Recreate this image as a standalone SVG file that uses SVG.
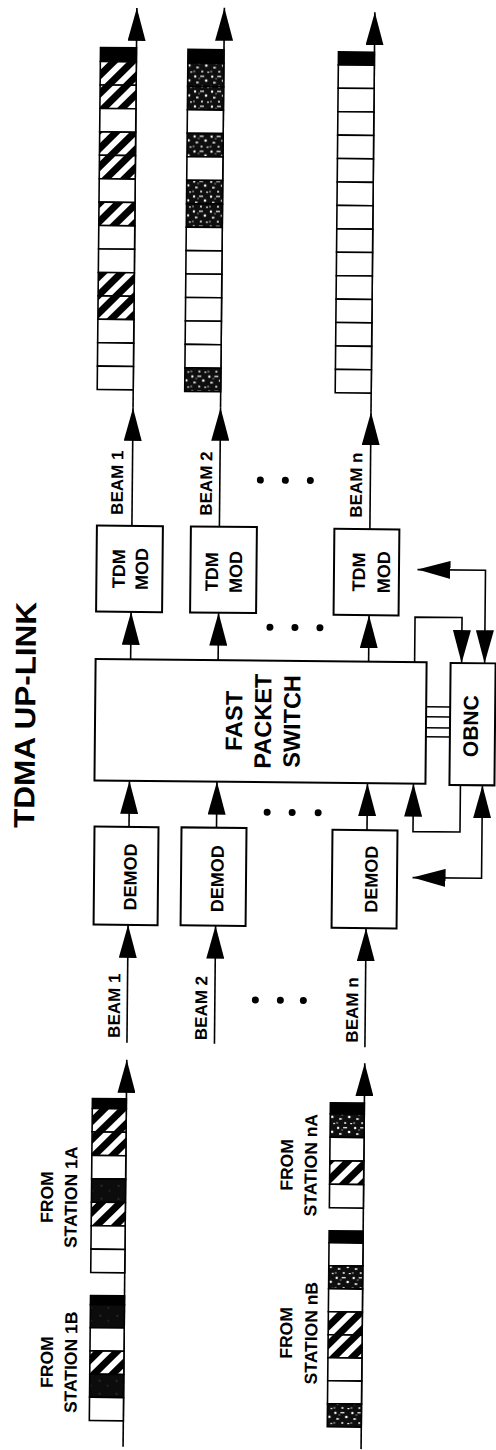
<svg xmlns="http://www.w3.org/2000/svg" width="496" height="1450" viewBox="0 0 496 1450">
<style>
.t{font-family:"Liberation Sans",Arial,Helvetica,sans-serif;font-weight:bold;fill:#000}
.bx{fill:#fff;stroke:#000;stroke-width:2}
.ln{fill:none;stroke:#000;stroke-width:1.6}
.ar{marker-end:url(#ah)}
.ab{marker-start:url(#ah);marker-end:url(#ah)}
.w{fill:#fff;stroke:#000;stroke-width:1.6}
.h{fill:url(#hatch);stroke:#000;stroke-width:1.6}
.s{fill:url(#stip);stroke:#000;stroke-width:1.6}
.d{fill:url(#dark);stroke:#000;stroke-width:1.6}
.k{fill:#000;stroke:#000;stroke-width:1.6}
</style>
<defs>
<marker id="ah" viewBox="0 0 33 18" refX="33" refY="9" markerWidth="33" markerHeight="18" markerUnits="userSpaceOnUse" orient="auto-start-reverse"><path d="M0,0 L33,9 L0,18 z" fill="#000"/></marker>
<pattern id="hatch" patternUnits="userSpaceOnUse" width="13" height="13" patternTransform="rotate(45)"><rect width="13" height="13" fill="#fff"/><rect width="7" height="13" fill="#000"/></pattern>
<pattern id="stip" patternUnits="userSpaceOnUse" width="17" height="15"><rect width="17" height="15" fill="#0e0e0e"/><circle cx="2" cy="2" r="1.2" fill="#fff"/><rect x="7" y="1" width="4" height="1.4" fill="#ddd"/><circle cx="13" cy="6" r="1.3" fill="#fff"/><rect x="3" y="7" width="2.5" height="2" fill="#ccc"/><circle cx="9" cy="12" r="1" fill="#fff"/><rect x="14" y="12" width="2" height="1.2" fill="#eee"/><circle cx="6" cy="4" r="0.7" fill="#bbb"/><circle cx="1" cy="12" r="0.8" fill="#ddd"/></pattern>
<pattern id="dark" patternUnits="userSpaceOnUse" width="17" height="13"><rect width="17" height="13" fill="#0c0c0c"/><circle cx="4" cy="4" r="0.6" fill="#888"/><circle cx="12" cy="9" r="0.5" fill="#777"/></pattern>
</defs>
<g transform="rotate(0.55 248 725)">
<g id="title"><text class="t" font-size="29" text-anchor="middle" textLength="226" lengthAdjust="spacingAndGlyphs" transform="translate(35,717) rotate(-90)">TDMA UP-LINK</text></g>

<g id="connectors">
<path class="ln ar" d="M130,527 V409"/>
<path class="ln ar" d="M130,409 V9"/>
<path class="ln ar" d="M130,660.5 V613"/>
<path class="ln ar" d="M130,828 V782"/>
<path class="ln ar" d="M130,1044 V926"/>
<path class="ln ar" d="M130,1448 V1061"/>
<path class="ln ar" d="M217.5,527 V408"/>
<path class="ln ar" d="M217.5,408 V8"/>
<path class="ln ar" d="M217.5,660.5 V613"/>
<path class="ln ar" d="M217.5,828 V782"/>
<path class="ln ar" d="M217.5,1044 V926"/>
<path class="ln ar" d="M368,528 V411"/>
<path class="ln ar" d="M368,411 V11"/>
<path class="ln ar" d="M368,660.5 V614"/>
<path class="ln ar" d="M368,829 V782"/>
<path class="ln ar" d="M368,1046 V927"/>
<path class="ln ar" d="M368,1448 V1062"/>
<path class="ln ar" d="M414,661 V615.5 H461 V661"/>
<path class="ln ab" d="M416,568 H484 V661"/>
<path class="ln ar" d="M461,783 V830 H414 V782"/>
<path class="ln ab" d="M414,876 H483 V783"/>
<path class="ln" stroke-width="1.8" d="M426,705 H450 M426,715 H450 M426,726 H450 M426,735 H450"/>
</g>

<g id="dots" fill="#000">
<circle cx="258" cy="480" r="3.5"/><circle cx="283" cy="480" r="3.5"/><circle cx="308" cy="480" r="3.5"/>
<circle cx="269" cy="627" r="3.5"/><circle cx="294" cy="627" r="3.5"/><circle cx="319" cy="627" r="3.5"/>
<circle cx="268" cy="812" r="3.5"/><circle cx="293" cy="812" r="3.5"/><circle cx="319" cy="812" r="3.5"/>
<circle cx="258" cy="1000" r="3.5"/><circle cx="283" cy="1000" r="3.5"/><circle cx="306" cy="1000" r="3.5"/>
</g>

<g id="switch"><rect class="bx" x="95" y="660.5" width="331" height="121.5"/>
<text class="t" font-size="23.5" text-anchor="middle" transform="translate(242,721) rotate(-90)">FAST</text>
<text class="t" font-size="23.5" text-anchor="middle" transform="translate(271,721) rotate(-90)">PACKET</text>
<text class="t" font-size="23.5" text-anchor="middle" transform="translate(300,721) rotate(-90)">SWITCH</text></g>

<g id="obnc"><rect class="bx" x="450" y="661" width="45" height="122"/>
<text class="t" font-size="21" text-anchor="middle" transform="translate(478,724) rotate(-90)">OBNC</text></g>

<g id="demod1"><rect class="bx" x="95.5" y="828" width="64" height="98"/>
<text class="t" font-size="18" text-anchor="middle" transform="translate(138,878) rotate(-90)">DEMOD</text></g>
<g id="demod2"><rect class="bx" x="182.5" y="828" width="65" height="98"/>
<text class="t" font-size="18" text-anchor="middle" transform="translate(225,879) rotate(-90)">DEMOD</text></g>
<g id="demodn"><rect class="bx" x="333.5" y="829" width="65" height="98"/>
<text class="t" font-size="18" text-anchor="middle" transform="translate(379,878) rotate(-90)">DEMOD</text></g>

<g id="tdm1"><rect class="bx" x="95" y="527" width="66" height="86"/>
<text class="t" font-size="18" text-anchor="middle" transform="translate(123.5,570) rotate(-90)">TDM</text>
<text class="t" font-size="18" text-anchor="middle" transform="translate(146.5,570) rotate(-90)">MOD</text></g>
<g id="tdm2"><rect class="bx" x="189" y="527" width="66" height="86"/>
<text class="t" font-size="18" text-anchor="middle" transform="translate(216.5,572) rotate(-90)">TDM</text>
<text class="t" font-size="18" text-anchor="middle" transform="translate(240.5,572) rotate(-90)">MOD</text></g>
<g id="tdmn"><rect class="bx" x="332.5" y="528" width="65" height="86"/>
<text class="t" font-size="18" text-anchor="middle" transform="translate(363.5,571) rotate(-90)">TDM</text>
<text class="t" font-size="18" text-anchor="middle" transform="translate(388.5,571) rotate(-90)">MOD</text></g>

<g id="beam-labels">
<text class="t" font-size="17" text-anchor="middle" transform="translate(122.7,1007) rotate(-90)">BEAM 1</text>
<text class="t" font-size="17" text-anchor="middle" transform="translate(209.7,1008.5) rotate(-90)">BEAM 2</text>
<text class="t" font-size="17" text-anchor="middle" transform="translate(360.7,1009) rotate(-90)">BEAM n</text>
<text class="t" font-size="17" text-anchor="middle" transform="translate(120.7,484) rotate(-90)">BEAM 1</text>
<text class="t" font-size="17" text-anchor="middle" transform="translate(209.7,484) rotate(-90)">BEAM 2</text>
<text class="t" font-size="17" text-anchor="middle" transform="translate(359.7,484) rotate(-90)">BEAM n</text>
</g>

<g id="station-labels">
<text class="t" font-size="17.5" text-anchor="middle" transform="translate(57.5,1199) rotate(-90)">FROM</text>
<text class="t" font-size="17.5" text-anchor="middle" transform="translate(81.5,1199) rotate(-90)">STATION 1A</text>
<text class="t" font-size="17.5" text-anchor="middle" transform="translate(59,1364) rotate(-90)">FROM</text>
<text class="t" font-size="17.5" text-anchor="middle" transform="translate(83,1364) rotate(-90)">STATION 1B</text>
<text class="t" font-size="17.5" text-anchor="middle" transform="translate(297,1164.5) rotate(-90)">FROM</text>
<text class="t" font-size="17.5" text-anchor="middle" transform="translate(321,1164.5) rotate(-90)">STATION nA</text>
<text class="t" font-size="17.5" text-anchor="middle" transform="translate(298,1332.5) rotate(-90)">FROM</text>
<text class="t" font-size="17.5" text-anchor="middle" transform="translate(323,1332.5) rotate(-90)">STATION nB</text>
</g>

<g id="frame-out1">
<rect class="k" x="94" y="49" width="36" height="14"/>
<rect class="h" x="94" y="63" width="36" height="23.4"/>
<rect class="h" x="94" y="86.4" width="36" height="23.5"/>
<rect class="w" x="94" y="109.9" width="36" height="23.4"/>
<rect class="h" x="94" y="133.3" width="36" height="23.4"/>
<rect class="h" x="94" y="156.7" width="36" height="23.5"/>
<rect class="w" x="94" y="180.2" width="36" height="23.4"/>
<rect class="h" x="94" y="203.6" width="36" height="23.4"/>
<rect class="w" x="94" y="227" width="36" height="23.4"/>
<rect class="w" x="94" y="250.4" width="36" height="23.5"/>
<rect class="h" x="94" y="273.9" width="36" height="23.4"/>
<rect class="h" x="94" y="297.3" width="36" height="23.4"/>
<rect class="w" x="94" y="320.7" width="36" height="23.5"/>
<rect class="w" x="94" y="344.2" width="36" height="23.4"/>
<rect class="w" x="94" y="367.6" width="36" height="23.4"/>
</g>
<g id="frame-out2">
<rect class="k" x="181.5" y="50" width="36" height="13.5"/>
<rect class="s" x="181.5" y="63.5" width="36" height="23.5"/>
<rect class="s" x="181.5" y="87" width="36" height="23.4"/>
<rect class="w" x="181.5" y="110.4" width="36" height="23.5"/>
<rect class="s" x="181.5" y="133.9" width="36" height="23.4"/>
<rect class="w" x="181.5" y="157.3" width="36" height="23.5"/>
<rect class="s" x="181.5" y="180.8" width="36" height="23.5"/>
<rect class="s" x="181.5" y="204.3" width="36" height="23.4"/>
<rect class="w" x="181.5" y="227.7" width="36" height="23.5"/>
<rect class="w" x="181.5" y="251.2" width="36" height="23.4"/>
<rect class="w" x="181.5" y="274.6" width="36" height="23.5"/>
<rect class="w" x="181.5" y="298.1" width="36" height="23.5"/>
<rect class="w" x="181.5" y="321.6" width="36" height="23.4"/>
<rect class="w" x="181.5" y="345" width="36" height="23.5"/>
<rect class="s" x="181.5" y="368.5" width="36" height="23.5"/>
</g>
<g id="frame-outn">
<rect class="k" x="332" y="51" width="36" height="13"/>
<rect class="w" x="332" y="64" width="36" height="23.4"/>
<rect class="w" x="332" y="87.4" width="36" height="23.5"/>
<rect class="w" x="332" y="110.9" width="36" height="23.4"/>
<rect class="w" x="332" y="134.3" width="36" height="23.4"/>
<rect class="w" x="332" y="157.7" width="36" height="23.5"/>
<rect class="w" x="332" y="181.2" width="36" height="23.4"/>
<rect class="w" x="332" y="204.6" width="36" height="23.4"/>
<rect class="w" x="332" y="228" width="36" height="23.4"/>
<rect class="w" x="332" y="251.4" width="36" height="23.5"/>
<rect class="w" x="332" y="274.9" width="36" height="23.4"/>
<rect class="w" x="332" y="298.3" width="36" height="23.4"/>
<rect class="w" x="332" y="321.7" width="36" height="23.5"/>
<rect class="w" x="332" y="345.2" width="36" height="23.4"/>
<rect class="w" x="332" y="368.6" width="36" height="23.4"/>
</g>

<g id="frame-1a">
<rect class="k" x="96" y="1100" width="34" height="10"/>
<rect class="h" x="96" y="1110" width="34" height="23.4"/>
<rect class="h" x="96" y="1133.4" width="34" height="23.5"/>
<rect class="w" x="96" y="1156.9" width="34" height="23.4"/>
<rect class="d" x="96" y="1180.3" width="34" height="23.4"/>
<rect class="h" x="96" y="1203.7" width="34" height="23.5"/>
<rect class="w" x="96" y="1227.2" width="34" height="23.4"/>
<rect class="w" x="96" y="1250.6" width="34" height="23.4"/>
</g>
<g id="frame-1b">
<rect class="k" x="96" y="1297" width="34" height="9"/>
<rect class="d" x="96" y="1306" width="34" height="23.2"/>
<rect class="w" x="96" y="1329.2" width="34" height="23.2"/>
<rect class="h" x="96" y="1352.4" width="34" height="23.2"/>
<rect class="d" x="96" y="1375.6" width="34" height="23.2"/>
<rect class="w" x="96" y="1398.8" width="34" height="23.2"/>
</g>
<g id="frame-na">
<rect class="k" x="334" y="1102" width="34" height="11"/>
<rect class="s" x="334" y="1113" width="34" height="23.5"/>
<rect class="w" x="334" y="1136.5" width="34" height="23.5"/>
<rect class="h" x="334" y="1160" width="34" height="23.5"/>
<rect class="w" x="334" y="1183.5" width="34" height="23.5"/>
</g>
<g id="frame-nb">
<rect class="k" x="334" y="1230" width="34" height="12"/>
<rect class="w" x="334" y="1242" width="34" height="23"/>
<rect class="s" x="334" y="1265" width="34" height="23"/>
<rect class="w" x="334" y="1288" width="34" height="23"/>
<rect class="h" x="334" y="1311" width="34" height="23"/>
<rect class="h" x="334" y="1334" width="34" height="23"/>
<rect class="w" x="334" y="1357" width="34" height="23"/>
<rect class="w" x="334" y="1380" width="34" height="23"/>
<rect class="s" x="334" y="1403" width="34" height="23"/>
</g>
</g>
</svg>
